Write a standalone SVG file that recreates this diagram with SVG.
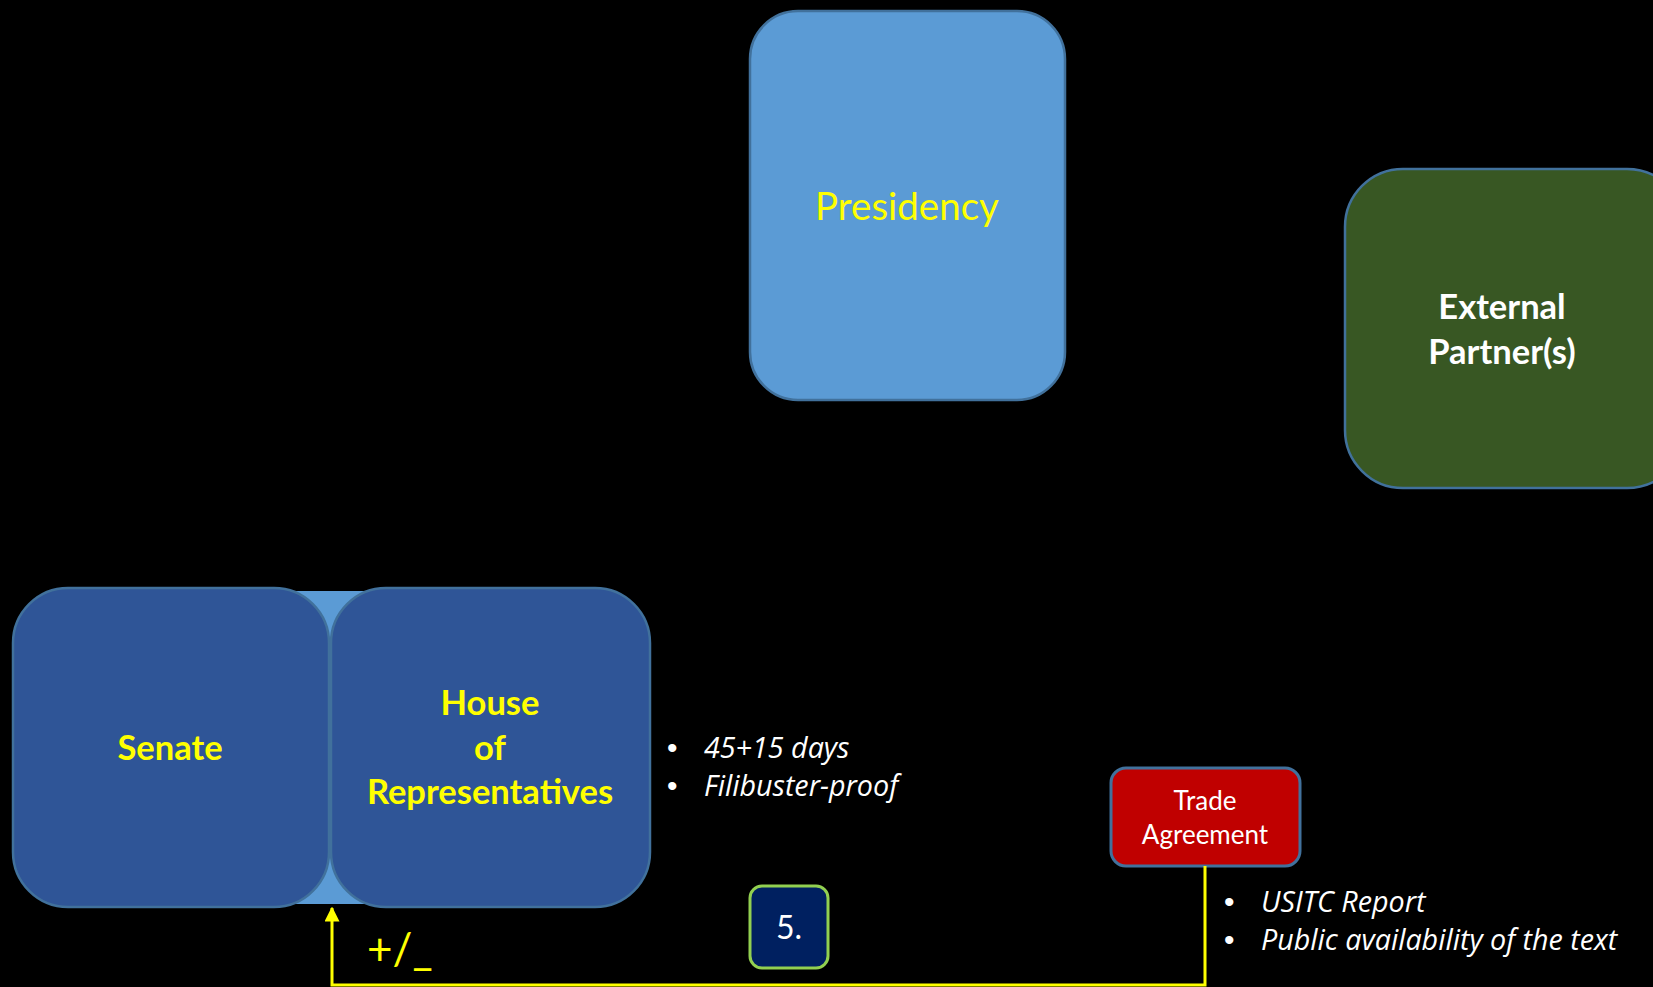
<svg xmlns="http://www.w3.org/2000/svg" width="1653" height="987" viewBox="0 0 1653 987">
<style>
.node{stroke:#41719C;stroke-width:2.5}
.lbl{font-family:Lato,"Open Sans","Liberation Sans",sans-serif;text-anchor:middle}
.yb{fill:#FFFF00;font-weight:bold;font-size:34.5px}
.note{font-family:"Open Sans","Liberation Sans",sans-serif;font-style:italic;fill:#FFFFFF;font-size:28.7px}
.bul{font-family:"Liberation Sans",sans-serif;fill:#FFFFFF;font-size:30px}
.conn{stroke:#FFFF00;stroke-width:3;fill:none}
</style>
<defs>
<marker id="arr" viewBox="0 0 10 10" refX="9" refY="5" markerWidth="5" markerHeight="5" orient="auto" markerUnits="strokeWidth">
<path d="M0,0 L10,5 L0,10 z" fill="#FFFF00"/>
</marker>
</defs>
<rect width="1653" height="987" fill="#000000"/>
<g id="congress-link">
<rect x="270" y="591" width="120" height="313" fill="#5B9BD5"/>
</g>
<g id="presidency">
<rect class="node" x="750" y="11" width="315" height="389" rx="48" fill="#5B9BD5"/>
<text class="lbl" x="907" y="220" fill="#FFFF00" font-size="38.5">Presidency</text>
</g>
<g id="external">
<rect class="node" x="1345" y="169" width="340" height="319" rx="58" fill="#385723"/>
<text class="lbl" x="1502" y="319" fill="#FFFFFF" font-weight="bold" font-size="34.5">External</text>
<text class="lbl" x="1502" y="364" fill="#FFFFFF" font-weight="bold" font-size="34.5">Partner(s)</text>
</g>
<g id="senate">
<rect class="node" x="13" y="588" width="316" height="319" rx="55" fill="#2F5597"/>
<text class="lbl yb" x="170" y="760">Senate</text>
</g>
<g id="house">
<rect class="node" x="331" y="588" width="319" height="319" rx="55" fill="#2F5597"/>
<text class="lbl yb" x="490" y="715">House</text>
<text class="lbl yb" x="490" y="760">of</text>
<text class="lbl yb" x="490" y="804">Representatives</text>
</g>
<g id="house-notes">
<text class="bul" x="667" y="758">•</text>
<text class="note" x="704" y="758">45+15 days</text>
<text class="bul" x="667" y="796">•</text>
<text class="note" x="704" y="796">Filibuster-proof</text>
</g>
<g id="trade-agreement">
<rect x="1111" y="768" width="189" height="98" rx="15" fill="#C00000" stroke="#41719C" stroke-width="3"/>
<text class="lbl" x="1205" y="810" fill="#FFFFFF" font-size="26">Trade</text>
<text class="lbl" x="1205" y="844" fill="#FFFFFF" font-size="26">Agreement</text>
</g>
<g id="trade-notes">
<text class="bul" x="1224" y="912">•</text>
<text class="note" x="1261" y="912">USITC Report</text>
<text class="bul" x="1224" y="950">•</text>
<text class="note" x="1261" y="950">Public availability of the text</text>
</g>
<g id="step5">
<rect x="750" y="886" width="78" height="82" rx="12" fill="#002060" stroke="#92D050" stroke-width="3"/>
<text class="lbl" x="789" y="939" fill="#FFFFFF" font-size="32">5.</text>
</g>
<g id="connectors">
<polyline class="conn" points="1205,866 1205,985 332,985 332,908" marker-end="url(#arr)"/>
<text x="367" y="965" fill="#FFFF00" font-family="Lato,'Open Sans',sans-serif" font-size="44">+/_</text>
</g>
</svg>
